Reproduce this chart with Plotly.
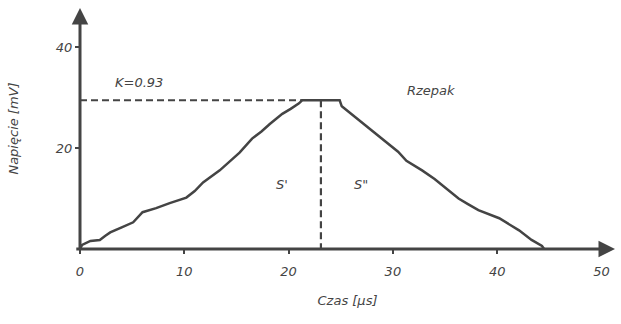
import plotly.graph_objects as go

# Signal curve (time in µs, voltage in mV)
czas = [0.0, 0.2, 1.0, 1.9, 2.4, 2.9, 4.0, 5.1, 6.0, 7.3, 8.6, 9.4, 10.2, 11.0, 11.8,
        13.4, 14.3, 15.3, 16.5, 17.4, 18.2, 19.4, 20.2, 21.0, 21.3,
        24.9, 25.1, 26.5, 28.0, 29.6, 30.5, 31.3, 32.8, 34.0, 35.1, 36.3, 37.2, 38.2,
        40.2, 41.2, 42.1, 43.3, 44.3, 44.5]
napiecie = [0.0, 0.8, 1.6, 1.8, 2.6, 3.3, 4.3, 5.3, 7.3, 8.1, 9.1, 9.6, 10.2, 11.5, 13.2,
            15.6, 17.2, 19.1, 21.9, 23.3, 24.8, 26.8, 27.8, 28.9, 29.5,
            29.5, 28.3, 26.0, 23.4, 20.9, 19.3, 17.5, 15.6, 13.9, 12.0, 10.0, 8.9, 7.7,
            6.1, 4.9, 3.7, 1.8, 0.6, 0.0]

K_label = "K=0.93"
plateau_level = 29.5
plateau_start = 21.3
split_time = 23.1

x_ticks = [0, 10, 20, 30, 40, 50]
y_ticks = [20, 40]

col = "#444444"
fnt = dict(family="DejaVu Sans", size=13, color=col, style="italic")

fig = go.Figure()
fig.add_trace(go.Scatter(x=czas, y=napiecie, mode="lines",
                         line=dict(color=col, width=2.5), showlegend=False))
# dashed helper lines
fig.add_trace(go.Scatter(x=[0, plateau_start], y=[plateau_level, plateau_level], mode="lines",
                         line=dict(color=col, width=2.2, dash="7px,4px"), showlegend=False))
fig.add_trace(go.Scatter(x=[split_time, split_time], y=[plateau_level, 0], mode="lines",
                         line=dict(color=col, width=2.2, dash="7px,4px"), showlegend=False))

xmax = 51.3
ymax = 47.8
# axis arrows
fig.add_annotation(x=xmax, y=0, ax=-0.5, ay=0, xref="x", yref="y", axref="x", ayref="y",
                   showarrow=True, arrowhead=2, arrowsize=1.1, arrowwidth=3,
                   arrowcolor=col, text="")
fig.add_annotation(x=0, y=ymax, ax=0, ay=-0.3, xref="x", yref="y", axref="x", ayref="y",
                   showarrow=True, arrowhead=2, arrowsize=1.1, arrowwidth=3,
                   arrowcolor=col, text="")

for txt, xx, yy in [(K_label, 5.7, 33.0), ("Rzepak", 33.7, 31.4), ("S'", 19.4, 12.8), ('S"', 26.9, 12.8)]:
    fig.add_annotation(x=xx, y=yy, text=txt, showarrow=False, font=fnt)

fig.update_layout(
    width=621, height=324,
    margin=dict(l=80, r=6, t=8, b=75),
    paper_bgcolor="white", plot_bgcolor="white",
    xaxis=dict(range=[0, xmax], tickvals=x_ticks, ticks="outside", ticklen=4,
               tickcolor=col, tickwidth=1.5, showgrid=False, zeroline=False, showline=False,
               tickfont=fnt, ticklabelstandoff=6,
               title=dict(text="Czas [µs]", font=fnt, standoff=18)),
    yaxis=dict(range=[0, ymax], tickvals=y_ticks, ticks="outside", ticklen=4,
               tickcolor=col, tickwidth=1.5, showgrid=False, zeroline=False, showline=False,
               tickfont=fnt, title=dict(text="Napięcie [mV]", font=fnt, standoff=34)),
)

fig.write_html("out.html")
